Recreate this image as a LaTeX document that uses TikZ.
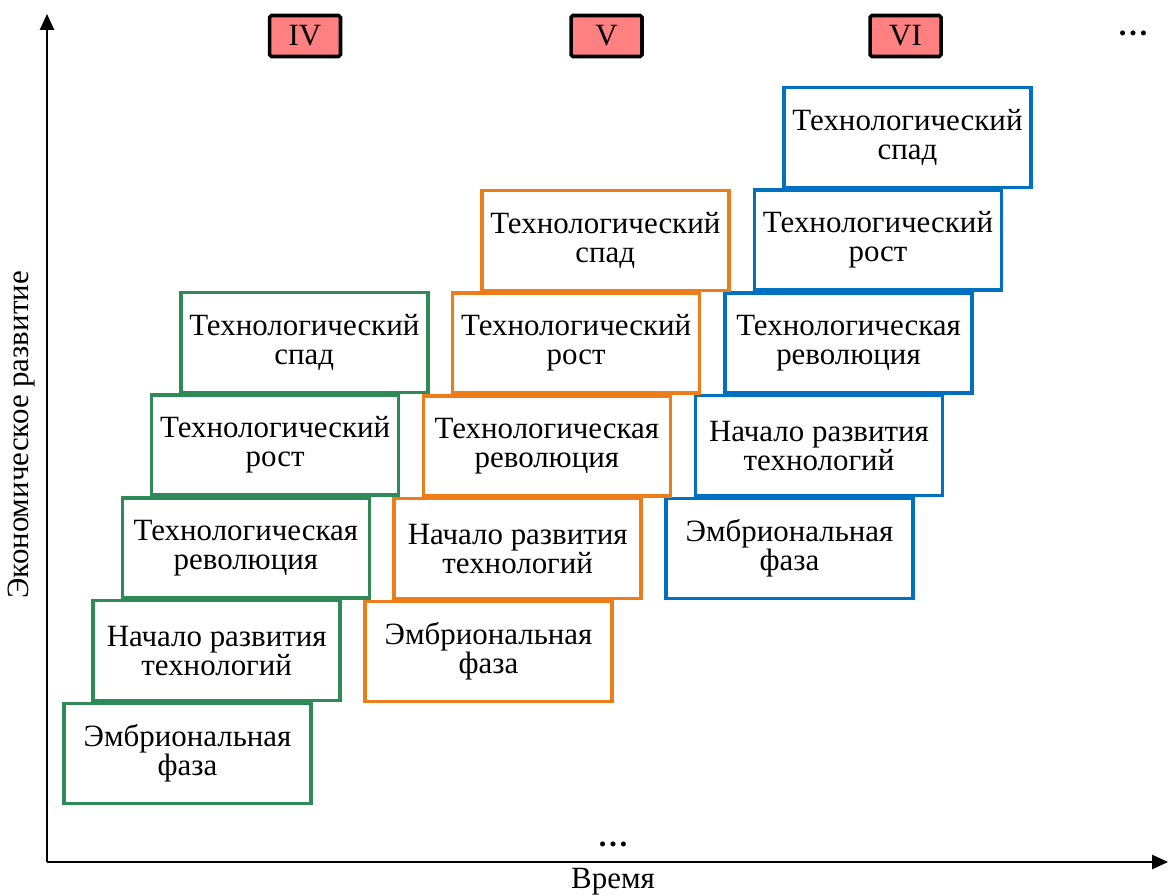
\documentclass[tikz,border=0pt]{standalone}
\usepackage{fontspec}
\setmainfont{Liberation Serif}
\usetikzlibrary{arrows.meta}
\definecolor{cgreen}{RGB}{46,139,87}
\definecolor{corange}{RGB}{237,125,26}
\definecolor{cblue}{RGB}{0,112,192}
\definecolor{cpink}{RGB}{255,128,128}
\begin{document}
\begin{tikzpicture}[x=0.02cm,y=-0.02cm,
  stage/.style={draw,line width=2pt,fill=white,minimum width=4.94cm,minimum height=2cm,
    align=center,inner sep=0pt,font=\fontsize{17.6}{16.4}\selectfont},
  wave/.style={draw=black,line width=2pt,fill=cpink,rounded corners=1pt,minimum width=1.42cm,
    minimum height=0.82cm,inner sep=0pt,font=\fontsize{17.6}{17}\selectfont},
  axis/.style={line width=1.1pt,-{Triangle[length=9pt,width=8pt]}},
  plain/.style={font=\fontsize{17.6}{17}\selectfont,inner sep=0pt}]
\useasboundingbox (0,0) rectangle (1168,895);
% axes
\coordinate (O) at (47,862);
\coordinate (Ytop) at (47,14);
\coordinate (Xend) at (1168,862);
\draw[axis] (O) -- (Ytop);
\draw[axis] (O) -- (Xend);
\node[plain,rotate=90] (ylab) at (22,435) {Экономическое развитие};
\node[plain] (xlab) at (613,882) {Время};
\node[plain] (dotsb) at (613,844) {\textbf{\ldots}};
\node[plain] (dotst) at (1133,33) {\textbf{\ldots}};
% wave labels
\node[wave] (w4) at (305,36) {IV};
\node[wave] (w5) at (606.5,36) {V};
\node[wave] (w6) at (905.5,36) {VI};
% stages
\foreach \i/\t in {0/{Эмбриональная\\фаза},1/{Начало развития\\технологий},2/{Технологическая\\революция},3/{Технологический\\рост},4/{Технологический\\спад}}{
  \node[stage,draw=cgreen] (g\i) at ({187.5+29.2*\i},{753.5-102.8*\i}) {\t};
  \node[stage,draw=corange] (o\i) at ({488.5+29.2*\i},{651.5-102.8*\i}) {\t};
  \node[stage,draw=cblue] (b\i) at ({789.5+29.5*\i},{548.5-102.8*\i}) {\t};
}
\end{tikzpicture}
\end{document}
